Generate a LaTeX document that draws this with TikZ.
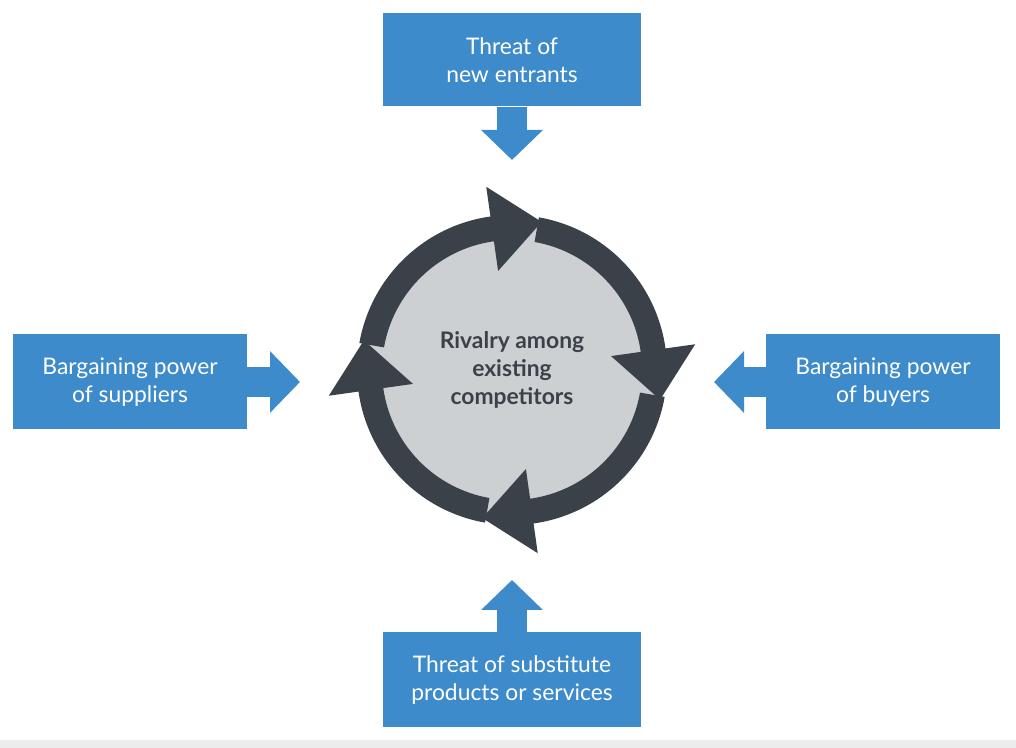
\documentclass[tikz,border=0pt]{standalone}
\usepackage{fontspec}
\setmainfont{Lato}
\usetikzlibrary{arrows.meta,calc}
\definecolor{forceblue}{HTML}{3D8BCB}
\definecolor{ringdark}{HTML}{3A4148}
\definecolor{coregray}{HTML}{CDD0D3}
\begin{document}
\begin{tikzpicture}[
    forcebox/.style={rectangle, fill=forceblue, text=white, align=center, font=\fontsize{13}{16}\selectfont},
    pusharrow/.style={draw=forceblue, line width=0.6cm, -{Triangle[width=1.2cm,length=0.6cm]}},
  ]
  \useasboundingbox (0,0) rectangle (20.32,14.96);
  \fill[gray!15] (0,0) rectangle (20.32,0.16);

  % Core
  \coordinate (c) at (10.24,7.56);
  \fill[coregray] (c) circle (2.9);
  \foreach \r in {0,-90,-180,-270}{
    \begin{scope}[shift={(c)}, rotate=\r]
      \fill[ringdark] (170:3.1) arc[start angle=170, end angle=98, radius=3.1]
        -- (98:3.7) -- ($(98:2.85)+(8:1.0)$) -- (98:2.0) -- (98:2.6)
        arc[start angle=98, end angle=170, radius=2.6] -- cycle;
    \end{scope}
  }
  \node[text=ringdark, align=center, font=\fontsize{13}{16}\selectfont\bfseries] (rivalry) at (c) {Rivalry among\\existing\\competitors};

  % Forces
  \node[forcebox, minimum width=5.16cm, minimum height=1.86cm] (entrants) at (10.24,13.76) {Threat of\\new entrants};
  \node[forcebox, minimum width=4.68cm, minimum height=1.9cm] (suppliers) at (2.6,7.32) {Bargaining power\\of suppliers};
  \node[forcebox, minimum width=4.68cm, minimum height=1.9cm] (buyers) at (17.66,7.32) {Bargaining power\\of buyers};
  \node[forcebox, minimum width=5.16cm, minimum height=1.9cm] (substitutes) at (10.24,1.36) {Threat of substitute\\products or services};

  \coordinate (entrantsend) at (10.24,11.76);
  \coordinate (suppliersend) at (6.0,7.32);
  \coordinate (buyersend) at (14.28,7.32);
  \coordinate (substitutesend) at (10.24,3.36);

  \draw[pusharrow] (entrants.south) -- (entrantsend);
  \draw[pusharrow] (suppliers.east) -- (suppliersend);
  \draw[pusharrow] (buyers.west) -- (buyersend);
  \draw[pusharrow] (substitutes.north) -- (substitutesend);
\end{tikzpicture}
\end{document}
